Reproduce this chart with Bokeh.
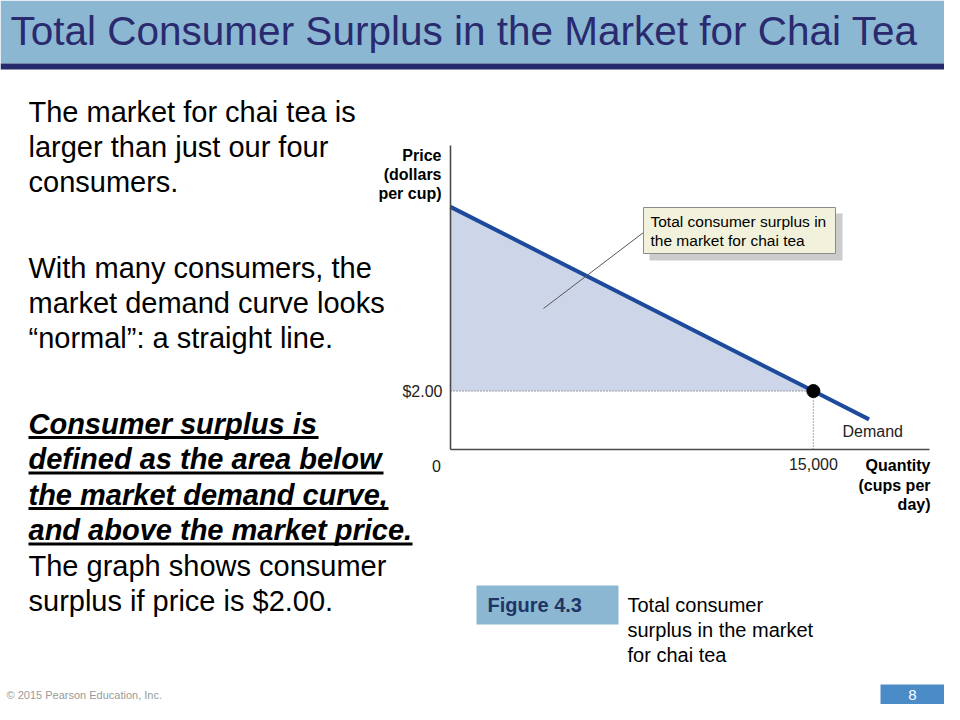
from bokeh.plotting import figure
from bokeh.models import Label, BoxAnnotation, FixedTicker, Range1d
from bokeh.embed import file_html
from bokeh.resources import INLINE

# ---------------- data ----------------
quantity_demand = [0, 15000, 17300]      # cups per day
price_demand = [8.3, 2.0, 1.03]          # dollars per cup
market_price = 2.0
market_quantity = 15000
x_ticks = [15000]
x_tick_labels = ["15,000"]
y_ticks = [2.0]
y_tick_labels = ["$2.00"]

title_text = "Total Consumer Surplus in the Market for Chai Tea"
para1 = ["The market for chai tea is", "larger than just our four", "consumers."]
para2 = ["With many consumers, the", "market demand curve looks", "\u201cnormal\u201d: a straight line."]
para3_bold = ["Consumer surplus is", "defined as the area below",
              "the market demand curve,", "and above the market price."]
para3_plain = ["The graph shows consumer", "surplus if price is $2.00."]
callout_lines = ["Total consumer surplus in", "the market for chai tea"]
y_title_lines = ["Price", "(dollars", "per cup)"]
x_title_lines = ["Quantity", "(cups per", "day)"]
caption_lines = ["Total consumer", "surplus in the market", "for chai tea"]
figure_tag = "Figure 4.3"
footer_text = "\u00a9 2015 Pearson Education, Inc."
page_number = "8"
curve_name = "Demand"

# ---------------- layout ----------------
W, H = 944, 704
QMAX, PMAX = 19800, 10.4
F_L, F_R, F_T, F_B = 450, 929, 145, 449   # chart axes box in canvas pixels

def X(px):
    return (px - F_L) * QMAX / (F_R - F_L)

def Y(py):
    return (F_B - py) * PMAX / (F_B - F_T)

FONT = "Liberation Sans"

p = figure(width=W, height=H, output_backend="svg", toolbar_location=None,
           x_range=Range1d(X(0), X(W)), y_range=Range1d(Y(H), Y(0)),
           min_border=0, min_border_left=0, min_border_right=0,
           min_border_top=0, min_border_bottom=0)
p.title.visible = False
p.outline_line_color = None
p.xgrid.visible = False
p.ygrid.visible = False
p.background_fill_color = "white"
p.border_fill_color = "white"

for ax in (p.xaxis[0], p.yaxis[0]):
    ax.fixed_location = 0
    ax.axis_line_color = "#4a4a4a"
    ax.axis_line_width = 1.6
    ax.major_tick_line_color = None
    ax.minor_tick_line_color = None
    ax.major_tick_out = 0
    ax.major_tick_in = 0
    ax.major_label_text_font = FONT
    ax.major_label_text_font_size = "16px"
    ax.major_label_text_color = "#222222"
    ax.major_label_standoff = 8
p.xaxis.bounds = (0, QMAX)
p.yaxis.bounds = (0, PMAX)
p.xaxis.ticker = FixedTicker(ticks=x_ticks)
p.xaxis.major_label_overrides = dict(zip(x_ticks, x_tick_labels))
p.yaxis.ticker = FixedTicker(ticks=y_ticks)
p.yaxis.major_label_overrides = dict(zip(y_ticks, y_tick_labels))

def box(l, r, t, b, color, line=None, lw=1):
    bx = BoxAnnotation(left=X(l), right=X(r), top=Y(t), bottom=Y(b),
                       fill_color=color, fill_alpha=1.0,
                       line_color=line, line_width=lw, line_alpha=1.0 if line else 0)
    p.add_layout(bx)

def lab(x, y, text, size, color="black", style="normal", align="left", font=FONT):
    p.add_layout(Label(x=X(x), y=Y(y), text=text, text_font=font,
                       text_font_size=f"{size}px", text_color=color,
                       text_font_style=style, text_align=align,
                       text_baseline="middle"))

# ---------------- slide decorations ----------------
box(0, W, 0, 63, "#8cb7d2")
box(0, W, 63, 69, "#262a6c")
lab(10, 30, title_text, 40.5, color="#2a2a6e")

for i, t in enumerate(para1):
    lab(28, 111 + 35 * i, t, 29)
for i, t in enumerate(para2):
    lab(28, 267 + 35 * i, t, 29)
underline_ends = [318, 383, 388, 412]
for i, t in enumerate(para3_bold):
    yc = 423 + 35.5 * i
    lab(28, yc, t, 29, style="bold italic")
    box(28, underline_ends[i], yc + 12.5, yc + 15.5, "black")
for i, t in enumerate(para3_plain):
    lab(28, 565 + 35 * i, t, 29)

# figure caption
box(476, 618, 585, 624, "#8cb7d2")
lab(487, 604, figure_tag, 20, color="#1e3566", style="bold")
for i, t in enumerate(caption_lines):
    lab(627, 604 + 25 * i, t, 20)

# footer
lab(6, 694, footer_text, 11, color="#9a9a9a")
box(880, W, 684, H, "#4a8bc8")
lab(912, 694, page_number, 15, color="white", align="center")

# ---------------- chart ----------------
p.patch([quantity_demand[0], market_quantity, 0],
        [price_demand[0], market_price, market_price],
        fill_color="#cdd5e8", line_color=None)
p.line([0, market_quantity], [market_price, market_price],
       line_color="#6f6f6f", line_width=1.2, line_dash="1 2")
p.line([market_quantity, market_quantity], [0, market_price],
       line_color="#6f6f6f", line_width=1.2, line_dash="1 2")
p.line(quantity_demand, price_demand, line_color="#1d4a9c", line_width=4)
p.scatter([market_quantity], [market_price], size=13, color="black")

# callout
p.segment(x0=[X(543)], y0=[Y(308)], x1=[X(643)], y1=[Y(232)],
          line_color="#555555", line_width=1)
box(649, 842, 213, 260, "#cccccc")
box(643, 835, 207, 253, "#f2f2dc", line="#8c8c8c", lw=1)
for i, t in enumerate(callout_lines):
    lab(650, 221 + 19 * i, t, 15.5)

# axis titles and labels
for i, t in enumerate(y_title_lines):
    lab(441, 155 + 19 * i, t, 16, style="bold", align="right")
for i, t in enumerate(x_title_lines):
    lab(930, 465 + 19.5 * i, t, 16, style="bold", align="right")
lab(436, 465, "0", 16, color="#222222", align="center")
lab(842, 431, curve_name, 16, color="#222222")

open("out.html", "w").write(file_html(p, INLINE))
